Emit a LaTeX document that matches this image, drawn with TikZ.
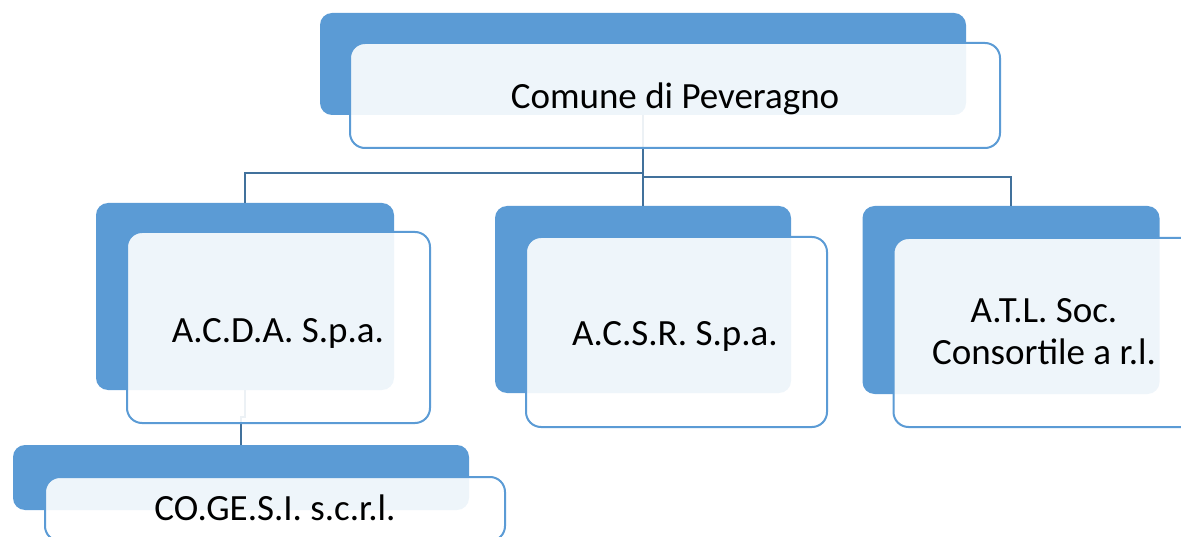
\documentclass[tikz,border=0pt]{standalone}
\usepackage{fontspec}
\setmainfont{Carlito}
\definecolor{boxblue}{HTML}{5B9BD5}
\definecolor{linkblue}{HTML}{41719C}

\begin{document}
\begin{tikzpicture}[x=1pt, y=-1pt,
        backbox/.style={fill=boxblue, rounded corners=12pt, inner sep=0pt},
        frontbox/.style={draw=boxblue, line width=2pt, fill=white, fill opacity=0.9, rounded corners=15pt, inner sep=0pt},
        boxtext/.style={anchor=base, inner sep=0pt, align=center, font=\fontsize{37}{43}\selectfont},
        link/.style={draw=linkblue, line width=2.5pt}]
        \useasboundingbox (0,0) rectangle (1181,537);
        % back boxes
        \node[backbox, minimum width=646, minimum height=102] (comuneB) at (643,64) {};
        \node[backbox, minimum width=298, minimum height=187] (acdaB) at (245,296.5) {};
        \node[backbox, minimum width=296, minimum height=187] (acsrB) at (643,299.5) {};
        \node[backbox, minimum width=297, minimum height=188] (atlB) at (1011,300) {};
        \node[backbox, minimum width=456, minimum height=65] (cogesiB) at (241,477.5) {};
        % links
        \draw[link] (comuneB.south) -- (acsrB.north);
        \draw[link] ([yshift=-58pt]comuneB.south) -| (acdaB.north);
        \draw[link] ([yshift=-62pt]comuneB.south) -| (atlB.north);
        \draw[link] (acdaB.south) -- ++(0,27) -| (cogesiB.north);
        % front boxes
        \node[frontbox, minimum width=650, minimum height=105] (comune) at (675,95.5) {};
        \node[frontbox, minimum width=303, minimum height=191] (acda) at (278.5,327.5) {};
        \node[frontbox, minimum width=301, minimum height=190] (acsr) at (676.5,332) {};
        \node[frontbox, minimum width=303, minimum height=189] (atl) at (1045,332.5) {};
        \node[frontbox, minimum width=460, minimum height=64] (cogesi) at (275,509) {};
        % texts
        \node[boxtext] (comuneT) at (675,109) {Comune di Peveragno};
        \node[boxtext] (acdaT) at (278,342) {A.C.D.A. S.p.a.};
        \node[boxtext] (acsrT) at (675,345) {A.C.S.R. S.p.a.};
        \node[boxtext] (atlT) at (1044,365) {A.T.L. Soc.\\Consortile a r.l.};
        \node[boxtext] (cogesiT) at (275,520) {CO.GE.S.I. s.c.r.l.};
    \end{tikzpicture}
\end{document}
